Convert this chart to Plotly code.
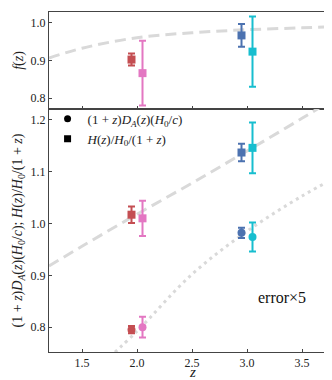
import plotly.graph_objects as go
from plotly.subplots import make_subplots

# redshift bins of the four points
z_pts = [1.95, 2.05, 2.95, 3.05]

# growth rate f(z) and plotted error bars
f_vals = [0.902, 0.866, 0.966, 0.923]
f_errs = [0.016, 0.086, 0.030, 0.093]

# H(z)/H0/(1+z)
h_vals = [1.017, 1.010, 1.137, 1.146]
h_errs = [0.016, 0.034, 0.017, 0.049]

# (1+z) D_A(z) (H0/c)
da_vals = [0.795, 0.800, 0.982, 0.974]
da_errs = [0.007, 0.020, 0.010, 0.028]

# fiducial curves
f_curve_z = [1.2, 1.5, 2.0, 2.5, 3.0, 3.5, 3.8]
f_curve = [0.906, 0.932, 0.960, 0.973, 0.981, 0.986, 0.989]

h_curve_z = [1.2, 1.5, 2.0, 2.5, 3.0, 3.5, 3.8]
h_curve = [0.918, 0.956, 1.018, 1.078, 1.140, 1.203, 1.242]

da_curve_z = [1.75, 2.0, 2.5, 3.0, 3.5, 3.8]
da_curve = [0.742, 0.792, 0.902, 0.985, 1.053, 1.088]

x_ticks = [1.5, 2.0, 2.5, 3.0, 3.5]

colors = ['#c44e52', '#e377c2', '#4c72b0', '#17becf']
FONT = 'Liberation Serif, DejaVu Serif, serif'
CURVE = '#d9d9d9'

fig = make_subplots(rows=2, cols=1, shared_xaxes=True,
                    vertical_spacing=0, row_heights=[97, 243])


def add_points(vals, errs, symbol, row):
    for z, v, e, c in zip(z_pts, vals, errs, colors):
        fig.add_trace(go.Scatter(
            x=[z], y=[v], mode='markers', showlegend=False,
            marker=dict(symbol=symbol, size=8, color=c),
            error_y=dict(type='data', array=[e], color=c,
                         thickness=2, width=3.5)
        ), row=row, col=1)


# TOP PANEL
fig.add_trace(go.Scatter(x=f_curve_z, y=f_curve, mode='lines',
                         line=dict(color=CURVE, width=3, dash='11px,6px',
                                   shape='spline'),
                         showlegend=False), row=1, col=1)
add_points(f_vals, f_errs, 'square', 1)

# BOTTOM PANEL
fig.add_trace(go.Scatter(x=h_curve_z, y=h_curve, mode='lines',
                         line=dict(color=CURVE, width=3, dash='11px,6px',
                                   shape='spline'),
                         showlegend=False), row=2, col=1)
fig.add_trace(go.Scatter(x=da_curve_z, y=da_curve, mode='lines',
                         line=dict(color=CURVE, width=3, dash='3px,4px',
                                   shape='spline'),
                         showlegend=False), row=2, col=1)
add_points(h_vals, h_errs, 'square', 2)
add_points(da_vals, da_errs, 'circle', 2)

# legend entries
fig.add_trace(go.Scatter(x=[None], y=[None], mode='markers',
                         marker=dict(symbol='circle', size=7, color='black'),
                         name='(1 + <i>z</i>)<i>D<sub>A</sub></i>(<i>z</i>)(<i>H</i><sub>0</sub>/<i>c</i>)'),
              row=2, col=1)
fig.add_trace(go.Scatter(x=[None], y=[None], mode='markers',
                         marker=dict(symbol='square', size=7, color='black'),
                         name='<i>H</i>(<i>z</i>)/<i>H</i><sub>0</sub>/(1 + <i>z</i>)'),
              row=2, col=1)

axis_style = dict(showline=True, linecolor='#444', linewidth=1, mirror=True,
                  ticks='inside', ticklen=3, tickcolor='#444',
                  showgrid=False, zeroline=False)

fig.update_xaxes(range=[1.2, 3.8], tickvals=x_ticks, **axis_style)
fig.update_xaxes(showticklabels=False, row=1, col=1)
fig.update_xaxes(ticktext=[f'{t:.1f}' for t in x_ticks], row=2, col=1)

fig.update_yaxes(range=[0.771, 1.028], tickvals=[0.8, 0.9, 1.0],
                 ticktext=['0.8', '0.9', '1.0'],
                 title_text='<i>f</i>(<i>z</i>)', title_standoff=3,
                 row=1, col=1, **axis_style)
fig.update_yaxes(range=[0.752, 1.221], tickvals=[0.8, 0.9, 1.0, 1.1, 1.2],
                 ticktext=['0.8', '0.9', '1.0', '1.1', '1.2'],
                 title_text='(1 + <i>z</i>)<i>D<sub>A</sub></i>(<i>z</i>)(<i>H</i><sub>0</sub>/<i>c</i>); '
                            '<i>H</i>(<i>z</i>)/<i>H</i><sub>0</sub>/(1 + <i>z</i>)',
                 title_standoff=4, row=2, col=1, **axis_style)

# x axis title
fig.add_annotation(text='<i>z</i>', xref='paper', yref='paper',
                   x=0.5, y=-0.06, yanchor='middle', showarrow=False,
                   borderpad=0,
                   font=dict(size=15, family=FONT, color='#222'))

fig.add_annotation(text='error\u00d75', xref='x2', yref='y2',
                   x=3.32, y=0.858, showarrow=False,
                   font=dict(size=16, family=FONT, color='#111'))

fig.update_layout(
    width=332, height=380,
    margin=dict(l=41, r=5, t=4, b=36),
    paper_bgcolor='white', plot_bgcolor='white',
    font=dict(family=FONT, size=12, color='#222'),
    legend=dict(x=-0.005, y=0.73, xanchor='left', yanchor='top',
                bgcolor='rgba(0,0,0,0)', font=dict(size=13),
                tracegroupgap=0, itemwidth=30)
)

fig.write_html('out.html')
